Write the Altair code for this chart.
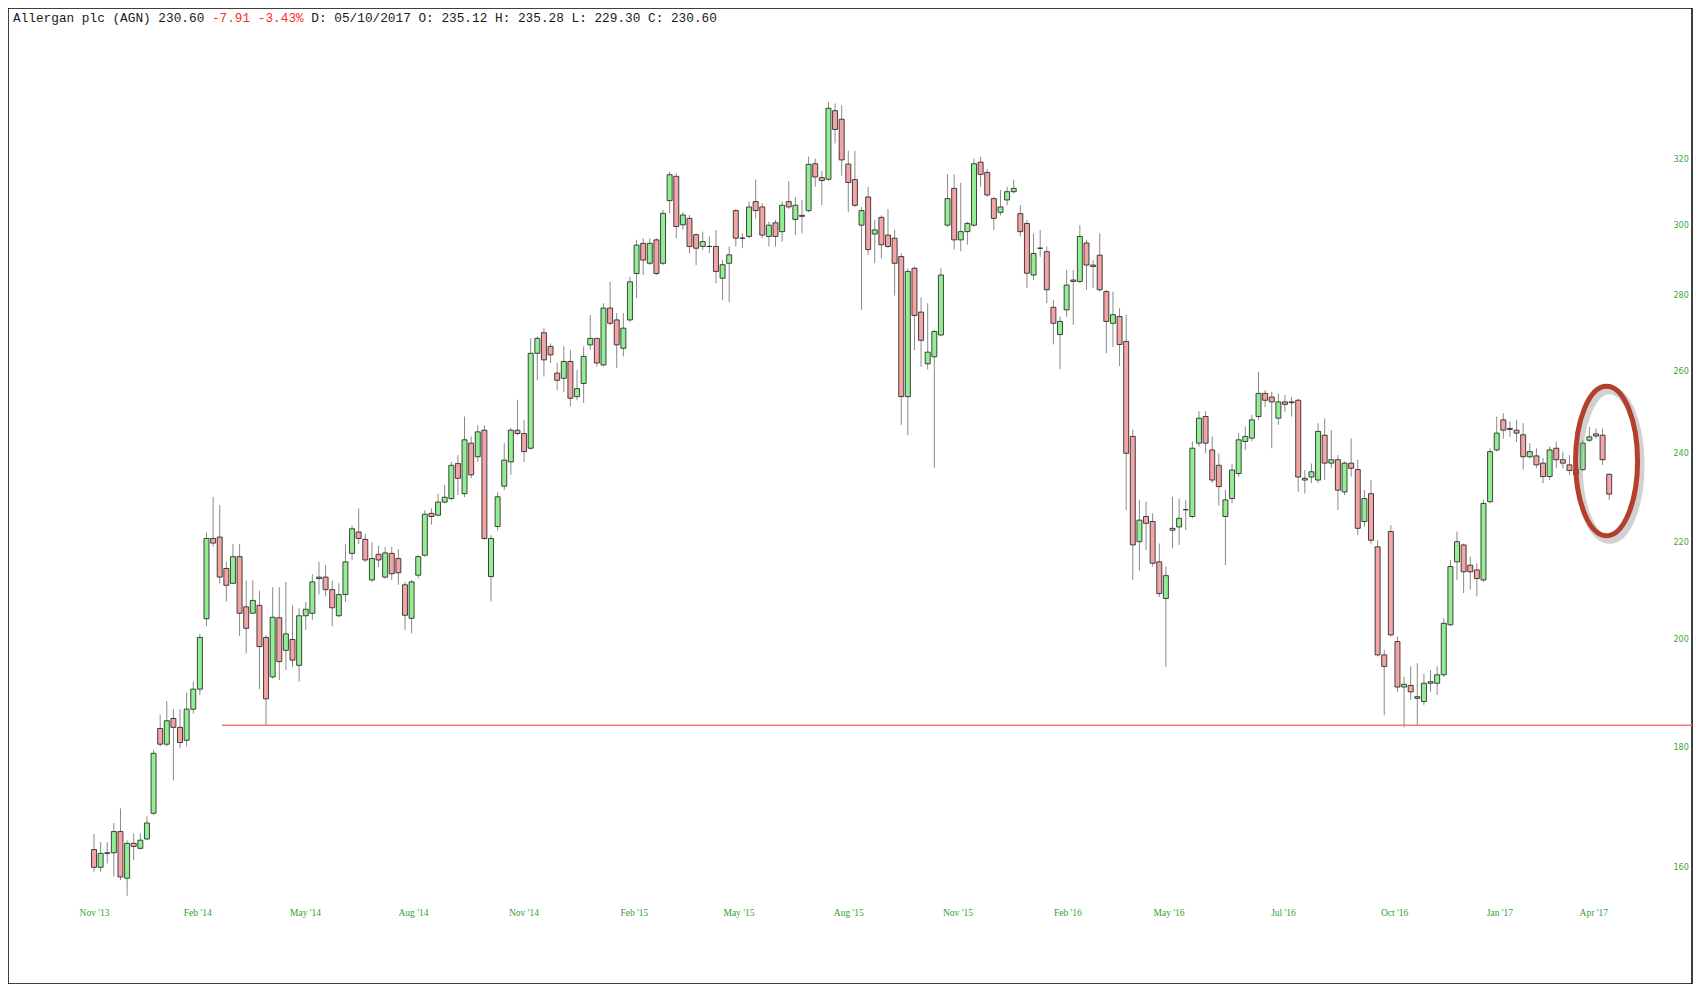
import math
import altair as alt
import pandas as pd

# ---------------- data ----------------
opens = [
    162.8, 160.0, 162.2, 162.3, 165.7, 158.3, 163.8, 163.0, 164.5, 168.7,
    183.3, 180.5, 185.1, 183.5, 181.2, 186.8, 190.5, 204.1, 220.8, 221.1,
    214.4, 211.3, 216.9, 206.5, 205.2, 206.8, 200.4, 192.8, 204.3, 197.9,
    200.0, 195.0, 204.7, 205.2, 212.3, 212.6, 210.0, 204.7, 209.0, 217.6,
    222.2, 220.6, 212.0, 217.4, 212.6, 217.6, 216.5, 211.0, 204.2, 213.0,
    217.2, 226.3, 225.9, 228.8, 229.6, 237.6, 230.7, 242.4, 239.2, 245.5,
    212.7, 223.4, 232.4, 238.0, 245.5, 244.7, 241.2, 264.7, 270.1, 266.5,
    259.6, 258.3, 262.6, 253.7, 257.0, 266.9, 268.6, 261.7, 276.7, 273.5,
    266.0, 273.5, 286.2, 294.8, 289.1, 295.8, 289.1, 307.4, 314.8, 300.2,
    302.1, 297.3, 293.9, 293.9, 293.9, 284.9, 289.1, 304.4, 296.3, 296.8,
    307.1, 305.5, 296.8, 300.8, 298.2, 307.1, 301.8, 303.0, 304.4, 318.7,
    314.4, 313.9, 335.7, 332.9, 318.6, 313.8, 300.1, 308.5, 297.5, 302.4,
    297.2, 296.3, 291.0, 253.7, 287.7, 275.6, 262.0, 263.8, 269.5, 300.1,
    311.1, 295.8, 298.2, 300.1, 319.2, 316.0, 308.0, 303.9, 307.6, 310.1,
    303.5, 300.6, 285.8, 293.4, 292.4, 276.9, 269.6, 276.2, 284.4, 284.0,
    294.9, 288.2, 291.4, 281.2, 272.6, 274.4, 267.8, 244.0, 220.1, 225.6,
    224.5, 215.8, 208.2, 222.6, 223.3, 227.1, 225.6, 242.4, 248.8, 240.8,
    237.2, 225.6, 229.6, 235.3, 242.8, 243.6, 248.8, 254.5, 253.6, 248.4,
    252.4, 252.4, 252.8, 233.8, 234.5, 233.8, 244.3, 237.7, 238.5, 231.1,
    237.7, 236.2, 224.5, 230.7, 219.0, 197.0, 222.3, 199.6, 190.9, 191.2,
    189.1, 188.2, 191.6, 191.6, 193.2, 202.9, 215.8, 219.4, 215.1, 214.1,
    212.0, 228.9, 240.8, 248.0, 245.9, 245.5, 244.4, 239.2, 239.4, 237.7,
    234.6, 241.2, 238.5, 237.3, 235.0, 236.2, 243.1, 244.6, 244.3, 235.12,
]
highs = [
    165.3, 164.0, 164.0, 167.1, 169.5, 164.3, 165.4, 165.4, 168.2, 179.5,
    185.8, 188.3, 186.8, 186.8, 189.9, 191.9, 201.1, 222.1, 230.0, 228.1,
    215.8, 219.6, 219.6, 211.9, 211.9, 209.8, 200.8, 210.5, 210.5, 211.6,
    206.8, 206.2, 207.5, 213.2, 215.8, 215.1, 211.9, 211.3, 219.6, 223.6,
    227.4, 221.8, 220.0, 219.2, 219.0, 219.0, 218.5, 211.6, 212.0, 217.2,
    227.0, 227.4, 230.7, 232.7, 238.0, 239.6, 248.8, 244.0, 246.7, 246.7,
    221.5, 231.0, 242.4, 246.0, 252.9, 248.0, 268.6, 269.1, 271.3, 267.3,
    262.2, 266.5, 265.6, 260.4, 266.5, 274.8, 268.6, 278.0, 283.9, 275.3,
    275.3, 285.3, 295.8, 296.3, 296.3, 296.3, 304.6, 316.3, 315.8, 304.0,
    303.1, 297.7, 298.2, 296.8, 298.7, 290.0, 293.9, 304.9, 297.7, 307.1,
    313.8, 306.6, 301.1, 301.6, 307.1, 313.3, 308.5, 307.6, 320.9, 320.3,
    316.5, 338.6, 338.1, 337.5, 322.8, 322.8, 305.5, 311.6, 301.6, 303.0,
    304.9, 298.7, 292.0, 287.7, 288.2, 279.6, 278.0, 270.8, 287.7, 315.4,
    315.4, 312.8, 301.1, 320.3, 320.9, 317.0, 308.5, 310.6, 311.6, 313.8,
    306.0, 301.6, 297.7, 298.7, 293.9, 278.9, 274.4, 287.2, 287.2, 300.1,
    295.8, 290.0, 297.7, 281.7, 281.2, 276.7, 274.9, 245.6, 229.3, 228.9,
    226.3, 219.7, 214.8, 230.0, 229.6, 229.3, 242.8, 250.1, 250.1, 244.0,
    240.0, 231.6, 237.6, 244.8, 246.4, 249.2, 260.0, 255.3, 254.9, 254.5,
    254.1, 253.6, 253.2, 236.1, 237.6, 247.2, 248.3, 245.5, 239.6, 238.1,
    243.5, 238.5, 231.5, 233.8, 220.4, 198.0, 223.7, 200.6, 192.8, 194.8,
    195.4, 193.4, 194.1, 194.8, 204.2, 216.2, 222.3, 219.7, 216.9, 215.5,
    229.3, 241.2, 248.8, 249.6, 247.6, 248.0, 247.2, 242.4, 241.2, 238.9,
    241.6, 242.7, 240.4, 239.6, 237.3, 243.1, 246.3, 245.9, 245.9, 235.28,
]
lows = [
    159.3, 159.3, 160.6, 158.6, 158.0, 155.6, 161.1, 162.8, 164.3, 168.4,
    180.1, 180.1, 174.2, 179.8, 180.1, 186.0, 189.4, 202.6, 219.0, 211.3,
    207.6, 211.3, 200.7, 197.3, 205.2, 190.5, 183.9, 192.5, 192.2, 194.1,
    194.7, 191.9, 201.9, 203.9, 209.0, 208.6, 202.6, 204.4, 207.5, 216.2,
    219.6, 215.8, 211.6, 214.7, 212.3, 212.0, 211.0, 201.9, 201.2, 212.3,
    216.9, 223.8, 225.6, 228.5, 229.2, 230.4, 229.9, 234.2, 238.0, 220.5,
    207.6, 222.5, 231.5, 235.0, 244.3, 238.0, 240.8, 257.8, 258.7, 262.2,
    255.3, 254.9, 251.3, 252.9, 252.1, 265.6, 261.3, 261.3, 272.1, 260.9,
    263.9, 273.0, 279.4, 285.8, 288.6, 285.8, 288.6, 303.6, 296.3, 298.8,
    291.9, 288.6, 292.9, 292.0, 283.5, 278.8, 278.3, 293.9, 293.4, 296.3,
    302.0, 296.3, 293.9, 293.9, 295.3, 304.9, 297.2, 297.7, 303.9, 311.6,
    306.0, 313.4, 325.1, 315.0, 303.9, 305.5, 276.2, 291.5, 289.1, 290.5,
    293.4, 280.1, 246.8, 244.3, 265.5, 261.2, 260.5, 236.6, 269.1, 299.6,
    293.0, 292.5, 294.4, 299.6, 311.6, 308.5, 298.7, 303.0, 306.0, 309.6,
    296.8, 282.2, 284.4, 290.9, 278.0, 267.0, 260.6, 274.4, 272.2, 283.5,
    281.7, 282.2, 281.2, 264.7, 266.4, 261.4, 227.0, 212.0, 214.0, 218.3,
    214.8, 208.5, 194.7, 218.7, 219.4, 222.6, 225.2, 241.6, 240.0, 233.1,
    228.0, 215.1, 228.5, 234.5, 240.8, 242.8, 248.0, 251.1, 241.2, 246.8,
    250.0, 248.8, 231.1, 230.7, 233.1, 233.1, 233.8, 236.5, 227.0, 230.4,
    234.6, 221.5, 223.4, 219.7, 196.7, 185.7, 200.6, 190.0, 183.5, 188.5,
    183.9, 187.6, 190.0, 189.4, 192.8, 202.6, 212.0, 209.3, 210.0, 208.6,
    211.6, 228.5, 240.4, 243.5, 243.9, 242.7, 236.2, 238.8, 236.5, 233.1,
    233.8, 236.5, 236.5, 235.0, 233.1, 235.8, 242.7, 243.5, 237.3, 229.30,
]
closes = [
    160.0, 162.2, 162.3, 165.7, 158.5, 163.8, 163.3, 164.3, 167.1, 178.9,
    180.5, 184.7, 183.5, 180.8, 186.8, 190.5, 200.4, 220.8, 219.8, 212.6,
    210.9, 216.9, 205.2, 202.2, 207.8, 198.6, 188.7, 204.4, 195.7, 201.1,
    196.0, 204.7, 206.0, 211.6, 212.6, 210.0, 206.3, 209.0, 215.8, 222.9,
    220.8, 216.2, 216.5, 216.2, 217.7, 213.3, 213.5, 204.8, 211.6, 216.9,
    226.1, 225.6, 228.8, 229.9, 237.2, 234.2, 243.2, 235.0, 245.1, 220.8,
    220.8, 230.0, 238.4, 245.5, 244.7, 240.4, 264.7, 268.6, 263.0, 264.3,
    257.8, 262.6, 253.3, 255.7, 263.9, 268.6, 262.2, 276.7, 272.6, 266.9,
    271.3, 283.9, 294.3, 290.0, 294.8, 286.2, 303.6, 315.3, 299.7, 303.1,
    293.9, 293.4, 295.3, 293.9, 286.8, 288.7, 291.5, 296.3, 296.3, 305.5,
    304.4, 297.2, 300.1, 296.8, 306.0, 305.5, 306.0, 302.7, 318.5, 314.6,
    313.5, 336.5, 329.6, 319.9, 312.9, 306.0, 304.4, 293.0, 298.7, 294.4,
    293.9, 289.1, 253.7, 286.8, 274.7, 268.1, 265.0, 270.4, 285.8, 308.0,
    295.8, 298.2, 300.6, 318.7, 315.4, 309.1, 302.1, 305.5, 310.1, 311.1,
    298.2, 286.3, 291.9, 293.4, 281.7, 272.6, 273.1, 283.0, 284.0, 296.8,
    288.6, 288.6, 281.7, 273.1, 274.9, 267.0, 240.0, 219.4, 224.8, 224.1,
    215.5, 209.2, 212.9, 223.0, 225.2, 227.1, 241.2, 248.4, 242.4, 233.8,
    232.3, 229.3, 236.1, 243.2, 244.0, 248.0, 254.5, 252.8, 252.4, 252.4,
    251.8, 252.2, 234.5, 234.2, 235.7, 245.2, 237.7, 238.5, 231.5, 237.7,
    236.5, 223.0, 229.6, 220.4, 197.0, 194.8, 200.9, 190.9, 191.4, 190.0,
    188.8, 191.6, 191.9, 193.2, 203.2, 214.8, 220.1, 213.7, 213.7, 212.3,
    228.5, 240.4, 244.8, 245.5, 245.7, 244.8, 239.2, 240.4, 237.3, 234.6,
    240.8, 238.5, 237.7, 236.0, 236.3, 242.4, 243.9, 244.1, 238.5, 230.60,
]

tick_pos = [0, 15.6, 31.9, 48.2, 64.9, 81.6, 97.4, 114.0, 130.5, 147.1,
            162.4, 179.7, 196.5, 212.4, 226.6]
tick_labels = ["Nov '13", "Feb '14", "May '14", "Aug '14", "Nov '14", "Feb '15",
               "May '15", "Aug '15", "Nov '15", "Feb '16", "May '16", "Jul '16",
               "Oct '16", "Jan '17", "Apr '17"]
price_ticks = [160, 180, 200, 220, 240, 260, 280, 300, 320]

support_start = [19.35]
support_price = [183.9]
circle_x = [228.6]
circle_price = [238.2]

title_parts = ["Allergan plc (AGN) 230.60 ", "-7.91 -3.43%",
               " D: 05/10/2017 O: 235.12 H: 235.28 L: 229.30 C: 230.60"]
title_colors = ["#1a1a1a", "#ff2b2b", "#1a1a1a"]

# ---------------- layout ----------------
W, H = 1684, 976
STEP = 6.656          # px per candle
FIRST_X = 89.5        # page x of first candle
PX_PER_LN = 1021.0    # log scale px per ln unit
Y320 = 159.6          # page y of price 320
MARGIN = 8

d0 = -(FIRST_X - MARGIN) / STEP
d1 = d0 + W / STEP
pmax = 320 * math.exp((Y320 - MARGIN) / PX_PER_LN)
pmin = pmax / math.exp(H / PX_PER_LN)

GREEN_TXT = "#2f9f2f"
UP = "#93ee93"
DOWN = "#f3a4a4"

df = pd.DataFrame({"i": list(range(len(opens))), "open": opens, "high": highs,
                   "low": lows, "close": closes})

xscale = alt.Scale(domain=[d0, d1], nice=False, zero=False)
yscale = alt.Scale(type="log", domain=[pmin, pmax], nice=False)

expr = "''"
for pos, lab in reversed(list(zip(tick_pos, tick_labels))):
    expr = f'abs(datum.value - {pos}) < 0.01 ? "{lab}" : {expr}'

xaxis = alt.Axis(values=tick_pos, labelExpr=expr, title=None, domain=False,
                 ticks=False, tickSize=0, grid=False, labelPadding=0, offset=-77,
                 labelFont="Liberation Serif", labelFontSize=9.5,
                 labelColor=GREEN_TXT, labelOverlap=False, labelFlush=False,
                 labelBaseline="top")
yaxis = alt.Axis(orient="right", values=price_ticks, format="d", title=None,
                 domain=False, ticks=False, tickSize=0, grid=False,
                 labelPadding=0, offset=-19, labelFont="DejaVu Sans",
                 labelFontSize=8, labelColor="#3aa53a", labelOverlap=False,
                 labelFlush=False, labelAlign="left")

base = alt.Chart(df)
wicks = base.mark_rule(color="#8a8a8a", strokeWidth=1).encode(
    x=alt.X("i:Q", scale=xscale, axis=xaxis),
    y=alt.Y("low:Q", scale=yscale, axis=yaxis),
    y2="high:Q",
)
bodies = base.mark_bar(size=5, stroke="#1a1a1a", strokeWidth=0.8).encode(
    x=alt.X("i:Q", scale=xscale, axis=xaxis),
    y=alt.Y("open:Q", scale=yscale, axis=yaxis),
    y2="close:Q",
    fill=alt.when(alt.datum.close >= alt.datum.open).then(alt.value(UP)).otherwise(alt.value(DOWN)),
)

sdf = pd.DataFrame({"start": support_start, "price": support_price})
support = alt.Chart(sdf).mark_rule(color="#f07878", strokeWidth=1.5).encode(
    x=alt.X("start:Q", scale=xscale, axis=xaxis),
    x2=alt.value(W),
    y=alt.Y("price:Q", scale=yscale, axis=yaxis),
)

EW, EH = 62.0, 149.5
rx = EW / EH
shape = f"M {-rx:.4f} 0 A {rx:.4f} 1 0 1 0 {rx:.4f} 0 A {rx:.4f} 1 0 1 0 {-rx:.4f} 0 Z"
edf = pd.DataFrame({"cx": circle_x, "cy": circle_price})
shadow = alt.Chart(edf).mark_point(shape=shape, size=EH * EH, filled=False,
                                   stroke="#8f8f8f", strokeWidth=8, opacity=0.4,
                                   xOffset=3, yOffset=4).encode(
    x=alt.X("cx:Q", scale=xscale, axis=xaxis),
    y=alt.Y("cy:Q", scale=yscale, axis=yaxis),
)
ellipse = alt.Chart(edf).mark_point(shape=shape, size=EH * EH, filled=False,
                                    stroke="#b43f2c", strokeWidth=5,
                                    opacity=1).encode(
    x=alt.X("cx:Q", scale=xscale, axis=xaxis),
    y=alt.Y("cy:Q", scale=yscale, axis=yaxis),
)

CHAR_W = 7.65
FS = 12.75
layers = [wicks, bodies, support, shadow, ellipse]
xpos = 5.0
for part, col in zip(title_parts, title_colors):
    txt = part.strip()
    lead = len(part) - len(part.lstrip())
    t = alt.Chart(pd.DataFrame({"t": [txt]})).mark_text(
        align="left", baseline="middle", font="Liberation Mono", fontSize=FS,
        color=col).encode(x=alt.value(xpos + lead * CHAR_W), y=alt.value(9.5), text="t:N")
    layers.append(t)
    xpos += len(part) * CHAR_W

chart = alt.layer(*layers).properties(
    width=W, height=H, padding=0, background="white"
).configure_view(stroke="black", strokeWidth=1.5)

chart.save("out.html", embed_options={"renderer": "svg", "actions": False})
